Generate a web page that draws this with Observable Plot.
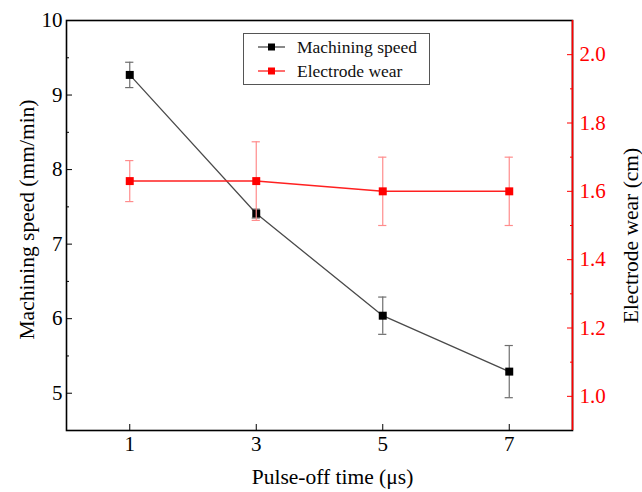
<!DOCTYPE html>
<html><head><meta charset="utf-8">
<script src="https://cdn.jsdelivr.net/npm/d3@7"></script>
<script src="https://cdn.jsdelivr.net/npm/@observablehq/plot@0.6"></script>
<style>
body{margin:0;background:#fff;}
#chart{position:relative;width:642px;height:492px;font-family:"Liberation Serif","Times New Roman",serif;}
#legend{position:absolute;left:243px;top:33px;width:185px;height:50px;border:1px solid #555;background:#fff;}
#legend .row{position:absolute;left:0;height:20px;display:flex;align-items:center;font-size:17.5px;color:#111;}
#legend svg{margin-left:14px;margin-right:12px;}
</style>
</head><body><div id="chart"><div id="legend"></div></div>
<script>
// ---- data ----
const pulseOff = [1, 3, 5, 7];
const speed = [9.27, 7.41, 6.04, 5.29];
const speedErr = [0.17, 0.06, 0.25, 0.35];
const wear = [1.63, 1.63, 1.60, 1.60];
const wearErr = [0.06, 0.115, 0.10, 0.10];
const xTicks = [1, 3, 5, 7];
const speedTicks = [5, 6, 7, 8, 9, 10];
const speedMinor = [5.5, 6.5, 7.5, 8.5, 9.5];
const wearTicks = [1.0, 1.2, 1.4, 1.6, 1.8, 2.0];
const wearMinor = [1.1, 1.3, 1.5, 1.7, 1.9];
const seriesNames = ["Machining speed", "Electrode wear"];
const seriesColors = ["#000000", "#ff0000"];

const speedDomain = [4.5, 10];
const wearDomain = [0.9, 2.1];
const k = (speedDomain[1] - speedDomain[0]) / (wearDomain[1] - wearDomain[0]);
const toLeft = v => speedDomain[0] + (v - wearDomain[0]) * k;
const fromLeft = v => wearDomain[0] + (v - speedDomain[0]) / k;
const capHalf = 0.065;

const sData = pulseOff.map((x, i) => ({x, y: speed[i], lo: speed[i] - speedErr[i], hi: speed[i] + speedErr[i]}));
const wData = pulseOff.map((x, i) => ({x, y: toLeft(wear[i]), lo: toLeft(wear[i] - wearErr[i]), hi: toLeft(wear[i] + wearErr[i])}));

const errMarks = (data, color) => [
  Plot.ruleX(data, {x: "x", y1: "lo", y2: "hi", stroke: color, strokeWidth: 1.2}),
  Plot.ruleY(data, {y: "hi", x1: d => d.x - capHalf, x2: d => d.x + capHalf, stroke: color, strokeWidth: 1.2}),
  Plot.ruleY(data, {y: "lo", x1: d => d.x - capHalf, x2: d => d.x + capHalf, stroke: color, strokeWidth: 1.2})
];

const chart = Plot.plot({
  width: 642,
  height: 492,
  marginLeft: 66,
  marginRight: 70,
  marginTop: 20,
  marginBottom: 62,
  style: {fontFamily: '"Liberation Serif","Times New Roman",serif', fontSize: "21px", background: "#fff", color: "#000"},
  x: {domain: [0, 8]},
  y: {domain: speedDomain},
  marks: [
    // black series
    ...errMarks(sData, "#6e6e6e"),
    Plot.line(sData, {x: "x", y: "y", stroke: "#4a4a4a", strokeWidth: 1.3}),
    Plot.dot(sData, {x: "x", y: "y", symbol: "square", r: 4.5, fill: seriesColors[0], stroke: "none"}),
    // red series
    ...errMarks(wData, "#ff8c8c"),
    Plot.line(wData, {x: "x", y: "y", stroke: "#ff2020", strokeWidth: 1.5}),
    Plot.dot(wData, {x: "x", y: "y", symbol: "square", r: 4.5, fill: seriesColors[1], stroke: "none"}),
    // frame & axes
    Plot.frame({stroke: "#000", strokeWidth: 1.6}),
    Plot.axisX(xTicks, {anchor: "bottom", tickSize: -6, tickPadding: 12, label: null, tickFormat: d => String(d)}),
    Plot.axisY(speedTicks, {anchor: "left", tickSize: -6, tickPadding: 10, label: null, tickFormat: d => String(d)}),
    Plot.axisY(speedMinor, {anchor: "left", tickSize: -3, tickFormat: () => "", label: null}),
    Plot.axisY(wearTicks.map(toLeft), {anchor: "right", tickSize: -6, tickPadding: 13, label: null, color: "#ff0000", tickFormat: d => fromLeft(d).toFixed(1)}),
    Plot.axisY(wearMinor.map(toLeft), {anchor: "right", tickSize: -3, tickFormat: () => "", label: null, color: "#ff0000"}),
    Plot.ruleX([8], {stroke: "#ff0000", strokeWidth: 1.6}),
    // axis titles
    Plot.text(["Pulse-off time (μs)"], {frameAnchor: "bottom", dx: 13, dy: 53, textAnchor: "middle", fontSize: 21.5, fill: "#000"}),
    Plot.text(["Machining speed (mm/min)"], {frameAnchor: "left", dx: -39, dy: -6, rotate: -90, textAnchor: "middle", fontSize: 21.5, fill: "#000"}),
    Plot.text(["Electrode wear (cm)"], {frameAnchor: "right", dx: 59, dy: 10, rotate: -90, textAnchor: "middle", fontSize: 21.5, fill: "#000"})
  ]
});
document.getElementById("chart").prepend(chart);

// legend
const legend = d3.select("#legend");
seriesNames.forEach((name, i) => {
  const row = legend.append("div").attr("class", "row").style("top", (3 + i * 24) + "px");
  const svg = row.append("svg").attr("width", 27).attr("height", 10);
  svg.append("line").attr("x1", 0).attr("x2", 27).attr("y1", 5).attr("y2", 5)
    .attr("stroke", i === 0 ? "#4a4a4a" : "#ff2020").attr("stroke-width", 1.3);
  svg.append("rect").attr("x", 10).attr("y", 1.5).attr("width", 7).attr("height", 7).attr("fill", seriesColors[i]);
  row.append("span").text(name);
});
</script>
</body></html>
